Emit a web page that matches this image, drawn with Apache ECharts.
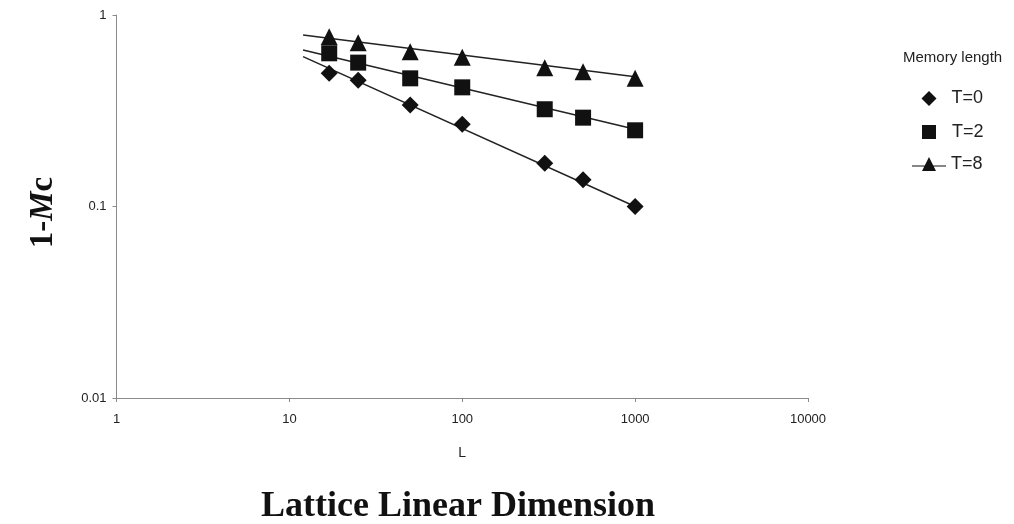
<!DOCTYPE html>
<html>
<head>
<meta charset="utf-8">
<script src="https://cdn.jsdelivr.net/npm/echarts@6/dist/echarts.min.js"></script>
<style>
  html, body { margin: 0; padding: 0; background: #ffffff; }
  #chart { width: 1014px; height: 524px; }
</style>
</head>
<body>
<div id="chart"></div>
<script>
// Lattice sizes L
const latticeL = [17, 25, 50, 100, 300, 500, 1000];

// 1 - Mc for each memory length
const t0Values = [0.496, 0.456, 0.339, 0.269, 0.168, 0.138, 0.100];
const t2Values = [0.631, 0.564, 0.467, 0.419, 0.322, 0.291, 0.250];
const t8Values = [0.770, 0.717, 0.643, 0.601, 0.531, 0.506, 0.467];

// Power-law trend lines: endpoints [L, 1-Mc]
const trendL  = [12, 1000];
const trendT0 = [0.606, 0.100];
const trendT2 = [0.656, 0.253];
const trendT8 = [0.786, 0.476];

const seriesNames = ['T=0', 'T=2', 'T=8'];
const xTicks = [1, 10, 100, 1000, 10000];
const yTicks = [0.01, 0.1, 1];

const ink = '#111111';
const pair = (xs, ys) => xs.map((x, i) => [x, ys[i]]);

const chart = echarts.init(document.getElementById('chart'));

function trend(ys) {
  return {
    type: 'line',
    data: pair(trendL, ys),
    symbol: 'none',
    silent: true,
    lineStyle: { color: '#222222', width: 1.5 },
    z: 1
  };
}

function markers(name, ys, symbol, size) {
  return {
    name: name,
    type: 'scatter',
    data: pair(latticeL, ys),
    symbol: symbol,
    symbolSize: size,
    itemStyle: { color: ink, opacity: 1 },
    z: 3
  };
}

// one legend block per entry so each icon keeps its own width
function legendEntry(name, icon, left, top, w, h, textPad) {
  return {
    orient: 'vertical',
    left: left,
    top: top,
    padding: 0,
    itemWidth: w,
    itemHeight: h,
    textStyle: { fontFamily: 'Liberation Sans', fontSize: 18, color: '#222222', padding: [0, 0, 0, textPad] },
    data: [{ name: name, icon: icon }]
  };
}

const triangleWithLine =
  'path://M0,9.5 L12.75,9.5 L17,1 L21.25,9.5 L34,9.5 L34,10.5 L21.75,10.5 L24,15 L10,15 L12.25,10.5 L0,10.5 Z';

chart.setOption({
  animation: false,
  backgroundColor: '#ffffff',
  grid: { left: 116.5, right: 206, top: 15, bottom: 126, containLabel: false },
  title: {
    text: 'Memory length',
    left: 903,
    top: 50,
    padding: 0,
    textStyle: { fontFamily: 'Liberation Sans', fontSize: 15, fontWeight: 'normal', color: '#222222' }
  },
  legend: [
    legendEntry(seriesNames[0], 'diamond', 921.5, 89.5, 15, 15, 10),
    legendEntry(seriesNames[1], 'rect', 922, 123, 14, 14, 11),
    legendEntry(seriesNames[2], triangleWithLine, 912, 155, 34, 14, 0)
  ],
  xAxis: {
    type: 'log',
    logBase: 10,
    min: 1,
    max: 10000,
    name: 'L',
    nameLocation: 'middle',
    nameGap: 48,
    nameTextStyle: { fontFamily: 'Liberation Sans', fontSize: 14, color: '#222222' },
    axisLine: { lineStyle: { color: '#8a8a8a', width: 1 } },
    axisTick: { show: true, length: 4, lineStyle: { color: '#8a8a8a' } },
    minorTick: { show: false },
    splitLine: { show: false },
    axisLabel: {
      fontFamily: 'Liberation Sans', fontSize: 13, color: '#222222', margin: 15,
      formatter: v => String(xTicks.find(t => Math.abs(t - v) / t < 1e-6) ?? v)
    }
  },
  yAxis: {
    type: 'log',
    logBase: 10,
    min: 0.01,
    max: 1,
    name: '1-{i|M}c',
    nameLocation: 'middle',
    nameGap: 57,
    nameRotate: 90,
    nameTextStyle: {
      fontFamily: 'Liberation Serif', fontSize: 33, fontWeight: 'bold', color: '#111111',
      padding: [0, 12, 0, 0],
      rich: { i: { fontFamily: 'Liberation Serif', fontSize: 33, fontWeight: 'bold', fontStyle: 'italic', color: '#111111' } }
    },
    axisLine: { show: true, lineStyle: { color: '#8a8a8a', width: 1 } },
    axisTick: { show: true, length: 4, lineStyle: { color: '#8a8a8a' } },
    minorTick: { show: false },
    splitLine: { show: false },
    axisLabel: {
      fontFamily: 'Liberation Sans', fontSize: 13, color: '#222222', margin: 10,
      formatter: v => String(yTicks.find(t => Math.abs(t - v) / t < 1e-6) ?? v)
    }
  },
  graphic: [{
    type: 'text',
    x: 458,
    y: 507,
    style: {
      text: 'Lattice Linear Dimension',
      align: 'center',
      verticalAlign: 'middle',
      fontFamily: 'Liberation Serif', fontSize: 36, fontWeight: 'bold', fill: '#111111'
    }
  }],
  series: [
    trend(trendT0),
    trend(trendT2),
    trend(trendT8),
    markers(seriesNames[0], t0Values, 'diamond', 17),
    markers(seriesNames[1], t2Values, 'rect', 16),
    markers(seriesNames[2], t8Values, 'triangle', 17)
  ]
});
</script>
</body>
</html>
